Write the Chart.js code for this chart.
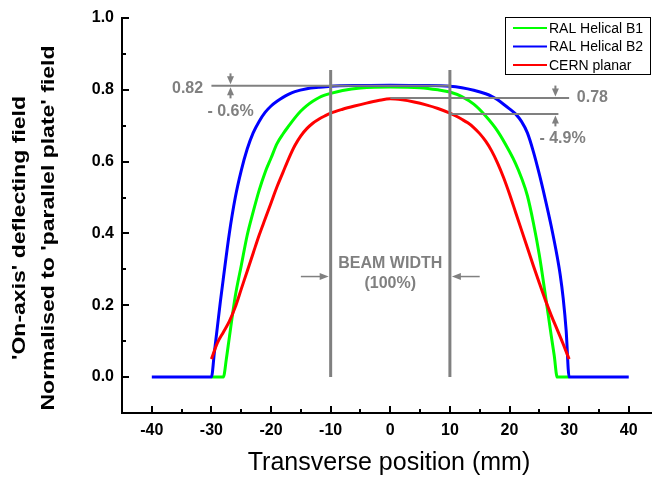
<!DOCTYPE html>
<html><head><meta charset="utf-8">
<script src="https://cdn.jsdelivr.net/npm/chart.js@4.4.1/dist/chart.umd.min.js"></script>
<style>html,body{margin:0;padding:0;background:#fff;overflow:hidden}</style>
</head><body>
<canvas id="c" width="652" height="477"></canvas>
<script>
// ---- tick labels ----
const xTicks = [-40, -30, -20, -10, 0, 10, 20, 30, 40];
const xMinorTicks = [-35, -25, -15, -5, 5, 15, 25, 35];
const yTicks = [0, 0.2, 0.4, 0.6, 0.8, 1.0];
const yMinorTicks = [0.1, 0.3, 0.5, 0.7, 0.9];

// ---- series: RAL Helical B1 ----
const b1Pos = [-30,-28,-27.5,-27,-26,-25,-24,-23,-22,-21,-20,-19,-18,-17,-16,-15,-14,-13,-12,-11,-10,-8,-5,0,5,8,10,12,14,16,18,20,21,22,23,24,25,26,27,27.5,28,30];
const b1Val = [0,0,0.05,0.11,0.225,0.31,0.395,0.46,0.52,0.57,0.61,0.65,0.677,0.7,0.722,0.741,0.756,0.768,0.778,0.785,0.79,0.798,0.805,0.808,0.806,0.8,0.794,0.781,0.76,0.727,0.685,0.628,0.595,0.555,0.505,0.43,0.34,0.23,0.115,0.06,0,0];

// ---- series: RAL Helical B2 ----
const b2Pos = [-40,-30,-29.5,-29,-28.5,-28,-27,-26,-25,-24,-23,-22,-21,-20,-19,-18,-17,-16,-14,-12,-10,-5,0,5,10,12,14,16,17,18,19,20,21,22,23,24,25,26,27,28,28.5,29,29.5,30,40];
const b2Val = [0,0,0.07,0.14,0.21,0.275,0.4,0.5,0.575,0.635,0.68,0.712,0.737,0.755,0.768,0.779,0.788,0.795,0.803,0.807,0.81,0.812,0.813,0.812,0.81,0.806,0.799,0.789,0.782,0.772,0.76,0.747,0.733,0.712,0.68,0.628,0.565,0.495,0.42,0.335,0.285,0.22,0.13,0,0];

// ---- series: CERN planar ----
const cernPos = [-30,-29,-28,-27,-26,-25,-24,-23,-22,-21,-20,-19,-18,-17,-16,-15,-14,-13,-12,-11,-10,-8,-6,-4,-2,0,2,4,6,8,10,11,12,13,14,15,16,17,18,19,20,21,22,23,24,25,26,27,28,29,30];
const cernVal = [0.05,0.095,0.125,0.155,0.195,0.245,0.295,0.345,0.395,0.44,0.485,0.53,0.57,0.61,0.645,0.672,0.692,0.707,0.718,0.727,0.735,0.746,0.755,0.763,0.77,0.775,0.772,0.766,0.758,0.748,0.735,0.727,0.718,0.708,0.695,0.678,0.657,0.63,0.596,0.556,0.51,0.46,0.41,0.36,0.31,0.262,0.215,0.172,0.132,0.092,0.05];

// ---- annotation values (data units) ----
const beamEdges = [-10, 10];
const beamTop = 0.855;
const levelB = 0.811;   // "0.82" level
const levelC1 = 0.777;  // "0.78" level
const levelC2 = 0.733;  // CERN at beam edge
const annoTexts = [
  {t: '0.82', x: -34, y: 0.803},
  {t: '- 0.6%', x: -26.8, y: 0.739},
  {t: '0.78', x: 33.9, y: 0.778},
  {t: '- 4.9%', x: 28.9, y: 0.664},
  {t: 'BEAM WIDTH', x: 0, y: 0.317},
  {t: '(100%)', x: 0, y: 0.261}
];

const zip = (a, b) => a.map((v, i) => ({x: v, y: b[i]}));
const FONT = 'Liberation Sans, Arial, sans-serif';
const GRAY = '#808080';

const axisDecor = {
  id: 'axisDecor',
  afterDraw(chart) {
    const {ctx, chartArea: a, scales: {x, y}} = chart;
    ctx.save();
    ctx.strokeStyle = '#000';
    ctx.lineWidth = 2;
    ctx.beginPath();
    xTicks.forEach(v => { const p = Math.round(x.getPixelForValue(v)); ctx.moveTo(p, a.bottom); ctx.lineTo(p, a.bottom - 7); });
    xMinorTicks.forEach(v => { const p = Math.round(x.getPixelForValue(v)); ctx.moveTo(p, a.bottom); ctx.lineTo(p, a.bottom - 4); });
    yTicks.forEach(v => { const p = Math.round(y.getPixelForValue(v)); ctx.moveTo(a.left, p); ctx.lineTo(a.left + 7, p); });
    yMinorTicks.forEach(v => { const p = Math.round(y.getPixelForValue(v)); ctx.moveTo(a.left, p); ctx.lineTo(a.left + 4, p); });
    ctx.stroke();

    // axis titles
    ctx.fillStyle = '#000';
    ctx.textAlign = 'center';
    ctx.textBaseline = 'middle';
    ctx.font = '25px ' + FONT;
    ctx.fillText('Transverse position (mm)', 389, 463);

    ctx.font = 'bold 19px ' + FONT;
    const l1 = "'On-axis' deflecting field";
    const l2 = "Normalised to 'parallel plate' field";
    const sx = 365 / ctx.measureText(l2).width;
    [[l1, 20], [l2, 49]].forEach(([t, cx]) => {
      ctx.save();
      ctx.translate(cx, 228);
      ctx.rotate(-Math.PI / 2);
      ctx.scale(sx, 1);
      ctx.fillText(t, 0, 0);
      ctx.restore();
    });

    // legend
    ctx.lineWidth = 1;
    ctx.strokeStyle = '#000';
    ctx.strokeRect(505.5, 17.5, 145, 57);
    ctx.font = '14px ' + FONT;
    ctx.textAlign = 'left';
    chart.data.datasets.forEach((ds, i) => {
      const yy = 28 + i * 18.5;
      ctx.strokeStyle = ds.borderColor;
      ctx.lineWidth = 2;
      ctx.beginPath(); ctx.moveTo(513, yy); ctx.lineTo(547, yy); ctx.stroke();
      ctx.fillStyle = '#000';
      ctx.fillText(ds.label, 549, yy + 1);
    });
    ctx.restore();
  }
};

const annotations = {
  id: 'annotations',
  afterDatasetsDraw(chart) {
    const {ctx, scales: {x, y}} = chart;
    const X = v => x.getPixelForValue(v), Y = v => y.getPixelForValue(v);
    ctx.save();
    ctx.strokeStyle = GRAY; ctx.fillStyle = GRAY;
    ctx.lineWidth = 3;
    beamEdges.forEach(v => {
      ctx.beginPath(); ctx.moveTo(X(v), Y(0)); ctx.lineTo(X(v), Y(beamTop)); ctx.stroke();
    });
    ctx.lineWidth = 2;
    const hline = (x0, x1, yv) => { ctx.beginPath(); ctx.moveTo(X(x0), Y(yv)); ctx.lineTo(X(x1), Y(yv)); ctx.stroke(); };
    hline(-30, 10, levelB);
    hline(0, 30, levelC1);
    hline(10, 28.2, levelC2);
    const varrow = (xv, yv, dir) => {
      const px = X(xv), py = Y(yv) - dir * 1.5;
      ctx.beginPath();
      ctx.moveTo(px, py);
      ctx.lineTo(px - 3.5, py - dir * 8);
      ctx.lineTo(px + 3.5, py - dir * 8);
      ctx.closePath(); ctx.fill();
      ctx.lineWidth = 2;
      ctx.beginPath(); ctx.moveTo(px, py - dir * 6); ctx.lineTo(px, py - dir * 11); ctx.stroke();
    };
    varrow(-26.8, levelB, 1);
    varrow(-26.8, levelB, -1);
    varrow(27.7, levelC1, 1);
    varrow(27.7, levelC2, -1);
    const harrow = (x0, x1, yv) => {
      const p0 = X(x0), p1 = X(x1), py = Y(yv);
      const d = Math.sign(p1 - p0);
      const tip = p1 - d * 2;
      ctx.lineWidth = 1.5;
      ctx.beginPath(); ctx.moveTo(p0, py); ctx.lineTo(tip - d * 8, py); ctx.stroke();
      ctx.beginPath(); ctx.moveTo(tip, py); ctx.lineTo(tip - d * 9, py - 3.5); ctx.lineTo(tip - d * 9, py + 3.5); ctx.closePath(); ctx.fill();
    };
    harrow(-15, -10, 0.28);
    harrow(15, 10, 0.28);
    ctx.font = 'bold 16px ' + FONT;
    ctx.textAlign = 'center';
    ctx.textBaseline = 'middle';
    annoTexts.forEach(a => ctx.fillText(a.t, X(a.x), Y(a.y)));
    ctx.restore();
  }
};

const tickFont = {family: FONT, size: 16, weight: 'bold'};

new Chart(document.getElementById('c').getContext('2d'), {
  type: 'line',
  data: {
    datasets: [
      {label: 'RAL Helical B1', data: zip(b1Pos, b1Val), borderColor: '#00ff00', order: 2},
      {label: 'RAL Helical B2', data: zip(b2Pos, b2Val), borderColor: '#0000ff', order: 1},
      {label: 'CERN planar', data: zip(cernPos, cernVal), borderColor: '#ff0000', order: 0}
    ]
  },
  options: {
    responsive: false,
    animation: false,
    devicePixelRatio: 1,
    layout: {padding: {top: 18, right: 0, left: 0, bottom: 0}},
    plugins: {legend: {display: false}, tooltip: {enabled: false}},
    elements: {
      point: {radius: 0},
      line: {borderWidth: 3, cubicInterpolationMode: 'monotone', fill: false}
    },
    scales: {
      x: {
        type: 'linear', min: -45, max: 43.9,
        grid: {display: false, drawTicks: false},
        border: {display: true, color: '#000', width: 2},
        ticks: {padding: 8, color: '#000', font: tickFont, maxRotation: 0, autoSkip: false, callback: v => String(v)},
        afterBuildTicks: s => { s.ticks = xTicks.map(v => ({value: v})); },
        afterFit: s => { s.height = 64; }
      },
      y: {
        type: 'linear', min: -0.1, max: 1.0,
        grid: {display: false, drawTicks: false},
        border: {display: true, color: '#000', width: 2},
        ticks: {padding: 8, color: '#000', font: tickFont, autoSkip: false, callback: v => v.toFixed(1)},
        afterBuildTicks: s => { s.ticks = yTicks.map(v => ({value: v})); },
        afterFit: s => { s.width = 122; }
      }
    }
  },
  plugins: [annotations, axisDecor]
});
</script>
</body></html>
